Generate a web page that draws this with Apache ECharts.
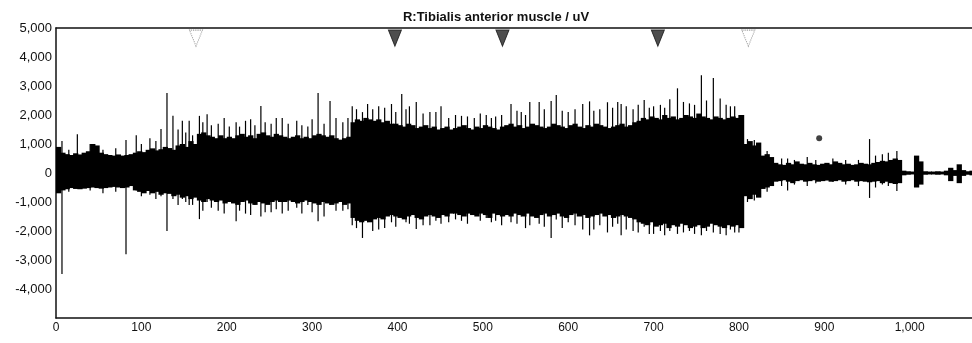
<!DOCTYPE html>
<html>
<head>
<meta charset="utf-8">
<script src="https://cdn.jsdelivr.net/npm/echarts@6/dist/echarts.min.js"></script>
<style>
  html, body { margin: 0; padding: 0; background: #fff; }
  #chart { width: 972px; height: 343px; }
</style>
</head>
<body>
<div id="chart"></div>
<script>
const xStep = 5;
const upperEnv = [
  900, 700, 650, 620, 680, 640, 700, 750, 1000, 950, 700, 650, 620, 600, 640, 600, 620, 650,
  700, 750, 720, 800, 850, 780, 820, 900, 860, 800, 950, 1000, 900, 1100, 1000,
  1350, 1400, 1300, 1250, 1200, 1300, 1200,
  1250, 1200, 1300, 1350, 1250, 1300, 1200, 1350, 1400, 1300, 1250, 1350, 1300,
  1250, 1200, 1250, 1300, 1200, 1250,
  1200, 1300, 1350, 1300, 1250, 1300, 1200, 1150, 1200, 1250,
  1750, 1850, 1800, 1900, 1850, 1800, 1850, 1750, 1800, 1700,
  1700, 1650, 1600, 1700, 1650, 1550, 1600, 1650, 1550, 1600, 1500, 1550, 1600, 1500,
  1550, 1600, 1650, 1550, 1500, 1600, 1550, 1650, 1600, 1550, 1500, 1600, 1650, 1700,
  1600, 1650, 1550, 1600, 1700, 1650, 1600, 1550, 1600, 1700, 1650, 1600, 1550, 1650,
  1700, 1600, 1550, 1650, 1600, 1700, 1650, 1600, 1550, 1600, 1650, 1700, 1600, 1650,
  1750, 1800, 1900, 1850, 1950, 1900, 1850, 2000, 1900, 1950, 1850, 1900, 2000,
  1950, 1900, 2050, 1950, 1900, 1850, 1950, 1900, 1850, 1900, 1950, 1900, 2000,
  1000, 1100, 950, 1050,
  600, 650, 550,
  350, 300, 280, 350, 300, 400, 320, 300, 350, 300, 280, 320, 350, 300, 400,
  350, 300, 320, 280, 300, 350, 320, 300, 350, 380, 420, 400, 450, 500, 450,
  80, 60, 50, 600, 400, 60, 50, 50, 60, 50, 80, 180, 100, 300, 100, 60,
  80
];
const lowerEnv = [
  -700, -600, -560, -520, -550, -560, -540, -520, -500, -520, -540, -520, -500, -480, -500, -520, -500, -450,
  -600, -650, -700, -620, -700, -650, -750, -700, -720, -800, -750, -850, -800, -900, -850,
  -950, -1000, -900, -950, -1000, -950, -1050,
  -1000, -1050, -1100, -1000, -950, -1050, -1100, -1000, -1050, -1100, -1000, -950, -1000,
  -1000, -950, -1000, -1050, -1000, -950,
  -1000, -1050, -1100, -1000, -1050, -1100, -1050, -1000, -1100, -1050,
  -1550, -1650, -1700, -1650, -1700, -1600, -1550, -1600, -1500, -1450,
  -1500, -1550, -1600, -1500, -1450, -1550, -1600, -1500, -1450, -1500, -1550, -1450, -1500, -1400,
  -1400, -1450, -1500, -1400, -1450, -1500, -1400, -1450, -1550, -1400, -1450, -1500, -1450, -1500,
  -1400, -1450, -1500, -1400, -1500, -1550, -1450, -1400, -1500, -1450, -1400, -1500, -1550, -1450,
  -1400, -1500, -1450, -1550, -1500, -1450, -1400, -1500, -1450, -1550, -1500, -1450, -1500, -1550,
  -1600, -1700, -1750, -1800, -1700, -1850, -1800, -1750, -1900, -1800, -1850, -1750, -1800,
  -1900, -1850, -1800, -1900, -1850, -1750, -1800, -1850, -1900, -1800, -1850, -1800, -1900,
  -800, -900, -750, -850,
  -550, -500, -450,
  -300, -280, -250, -300, -350, -280, -250, -300, -280, -250, -300, -280, -260, -300, -280,
  -250, -300, -280, -250, -300, -280, -300, -320, -300, -280, -350, -300, -350, -380, -350,
  -80, -60, -50, -500, -400, -60, -50, -50, -60, -50, -80, -280, -100, -350, -100, -60,
  -80
];

// isolated spikes sticking out of the envelope
const spikeX = [7, 15, 25, 40, 55, 70, 82, 94, 100, 110, 117, 123, 130, 137, 143, 148, 152, 156, 160,
  168, 172, 177, 182, 190, 197, 203, 211, 215, 222, 228, 233, 240, 245, 252, 258, 265, 272, 282, 288,
  295, 300, 307, 314, 321, 328, 336, 342, 347, 352, 359, 365, 371, 378, 385, 393, 398, 405, 410, 414,
  422, 430, 438, 445, 451, 460, 468, 475, 482, 490, 497, 504, 510, 515, 522, 533, 540, 545, 550, 555,
  566, 572, 580, 586, 593, 600, 608, 617, 625, 630, 637, 646, 652, 658, 662, 668, 676, 682, 689, 695,
  700, 708, 713, 719, 728, 735, 742, 748, 756, 762, 770, 778, 785, 790, 795, 800,
  810, 818, 833, 850, 857, 865, 880, 890, 910, 925, 940, 953, 960, 968, 975, 985];
const spikeTop = [1100, 800, 1340, 1000, 800, 850, 1140, 1300, 1000, 1200, 1100, 1520, 2760, 1970, 1500, 1800, 1400, 1800, 1300,
  1970, 1750, 2030, 1650, 1700, 1900, 1600, 1750, 1600, 1800, 1850, 1650, 2310, 1750, 1700, 1900, 1900, 1700, 1800, 1650,
  1600, 1850, 2760, 1700, 2480, 1900, 1750, 1900, 2300, 2200, 2100, 2380, 2200, 2300, 2250, 2380, 2100, 2720, 2200, 2300,
  2450, 2050, 2100, 2100, 2300, 1900, 2000, 1970, 1950, 1900, 2050, 2000, 1900, 1950, 2000, 2380, 2150, 2100, 2000, 2450,
  2450, 2200, 2480, 2690, 2150, 2100, 2200, 2380, 2470, 2150, 2200, 2440, 2250, 2450, 2380, 2300, 2200, 2350, 2520, 2250,
  2300, 2350, 2250, 2540, 2920, 2450, 2400, 2350, 3370, 2500, 3280, 2570, 2350, 2300, 2300, 2000,
  1170, 1140, 760, 500, 500, 450, 550, 450, 500, 450, 450, 1170, 600, 650, 700, 760];
const spikeBottom = [-3480, -650, -500, -600, -700, -650, -2800, -600, -800, -750, -900, -800, -2000, -900, -1100, -900, -1000, -1100, -1100,
  -1590, -1300, -1000, -1200, -1300, -1400, -1000, -1660, -1300, -1400, -1450, -1100, -1500, -1350, -1350, -1250, -1400, -1300, -1200, -1400,
  -1100, -1350, -1660, -1500, -1100, -1300, -1300, -1250, -1800, -1900, -2240, -1700, -2000, -1950, -1900, -1700, -1850, -1500, -1700, -1750,
  -1930, -1800, -1800, -1650, -1750, -1700, -1600, -1650, -1750, -1400, -1650, -1550, -1700, -1650, -1800, -1700, -1750, -1500, -1900, -1800,
  -1750, -1850, -2240, -1600, -1900, -1700, -1800, -1950, -2150, -1950, -1800, -2050, -1850, -1750, -2150, -1950, -2000, -2050, -1850, -2100,
  -2100, -2000, -2150, -2000, -2100, -2050, -2000, -2100, -2150, -2000, -2050, -2100, -2150, -1950, -2050, -2050,
  -1000, -950, -650, -450, -600, -400, -450, -350, -300, -400, -450, -860, -500, -400, -450, -620];

// event markers along the top border
const markerX = [164, 397, 523, 705, 811];
const markerFaint = [true, false, false, false, true];
const dotPoint = [894, 1200];

const envData = upperEnv.map((u, i) => [i * xStep, lowerEnv[i], u]);
const spikeData = spikeX.map((x, i) => [x, spikeBottom[i], spikeTop[i]]);

function fmtNum(v) {
  const s = Math.abs(v).toString().replace(/\B(?=(\d{3})+(?!\d))/g, ',');
  return (v < 0 ? '-' : '') + s;
}

const chart = echarts.init(document.getElementById('chart'));
chart.setOption({
  animation: false,
  backgroundColor: '#fff',
  title: {
    text: 'R:Tibialis anterior muscle / uV',
    left: 491,
    top: 6,
    textAlign: 'center',
    textStyle: { fontFamily: 'Liberation Sans', fontSize: 13, fontWeight: 'bold', color: '#111' }
  },
  grid: { left: 56, right: 0, top: 28, bottom: 25 },
  xAxis: [
    {
      type: 'value',
      min: 0,
      max: 1073,
      interval: 100,
      axisLine: { onZero: false, lineStyle: { color: '#111', width: 1.5 } },
      axisTick: { show: false },
      splitLine: { show: false },
      axisLabel: {
        showMaxLabel: false,
        margin: 4,
        color: '#111',
        fontFamily: 'Liberation Sans',
        fontSize: 12,
        formatter: fmtNum
      }
    },
    {
      type: 'value',
      position: 'top',
      min: 0,
      max: 1073,
      axisLine: { show: true, onZero: false, lineStyle: { color: '#111', width: 1.5 } },
      axisTick: { show: false },
      axisLabel: { show: false },
      splitLine: { show: false }
    }
  ],
  yAxis: {
    type: 'value',
    min: -5000,
    max: 5000,
    interval: 1000,
    axisLine: { show: true, lineStyle: { color: '#111', width: 1.5 } },
    axisTick: { show: false },
    splitLine: { show: false },
    axisLabel: {
      margin: 4,
      color: '#111',
      fontFamily: 'Liberation Sans',
      fontSize: 13,
      formatter: v => (v === -5000 ? '' : fmtNum(v))
    }
  },
  series: [
    {
      type: 'custom',
      data: envData,
      encode: { x: 0, y: [1, 2] },
      renderItem(params, api) {
        const x0 = api.value(0);
        const p1 = api.coord([x0, api.value(2)]);
        const p2 = api.coord([x0 + xStep, api.value(1)]);
        return {
          type: 'rect',
          shape: { x: p1[0], y: p1[1], width: p2[0] - p1[0] + 1, height: p2[1] - p1[1] },
          style: { fill: '#000' }
        };
      }
    },
    {
      type: 'custom',
      data: spikeData,
      encode: { x: 0, y: [1, 2] },
      renderItem(params, api) {
        const top = api.coord([api.value(0), api.value(2)]);
        const bot = api.coord([api.value(0), api.value(1)]);
        return {
          type: 'line',
          shape: { x1: top[0], y1: top[1], x2: bot[0], y2: bot[1] },
          style: { stroke: '#000', lineWidth: 1.2 }
        };
      }
    },
    {
      type: 'scatter',
      symbol: 'triangle',
      symbolRotate: 180,
      symbolSize: [13, 16],
      data: markerX.map((x, i) => ({
        value: [x, 4650],
        itemStyle: markerFaint[i]
          ? { color: '#fff', borderColor: '#777', borderWidth: 1, borderType: 'dotted' }
          : { color: '#222', borderColor: '#111', borderWidth: 1 }
      }))
    },
    {
      type: 'scatter',
      symbol: 'circle',
      symbolSize: 6,
      itemStyle: { color: '#111' },
      data: [dotPoint]
    }
  ]
});
</script>
</body>
</html>
